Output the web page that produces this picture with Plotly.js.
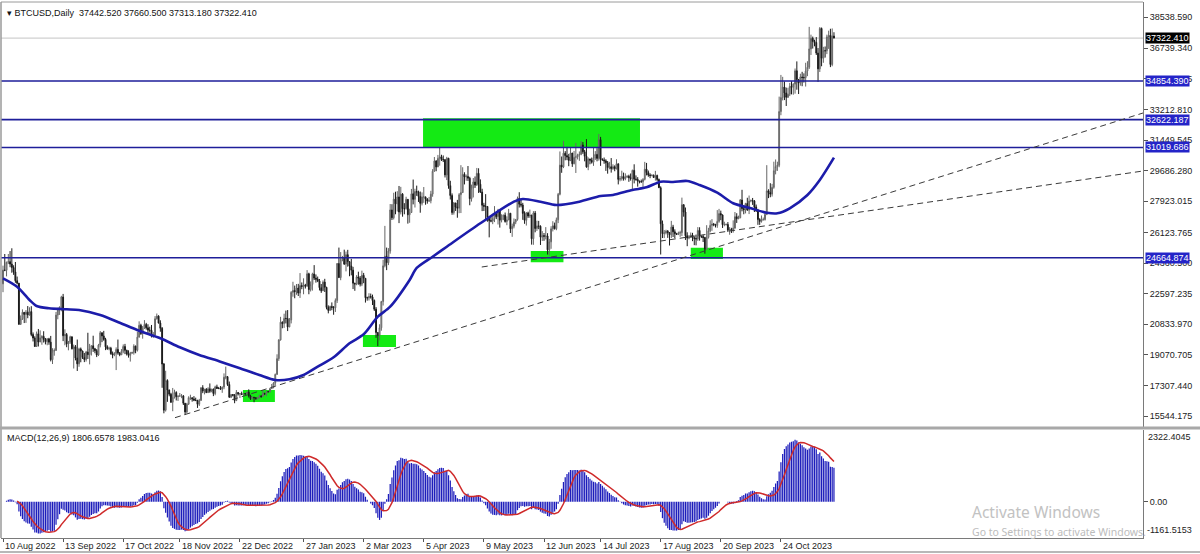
<!DOCTYPE html>
<html>
<head>
<meta charset="utf-8">
<script src="https://cdn.plot.ly/plotly-3.0.1.min.js"></script>
<style>
  html, body { margin: 0; padding: 0; background: #ffffff; }
  #chart { width: 1200px; height: 554px; }
</style>
</head>
<body>
<div id="chart"></div>
<script>
// ---------------- DATA (BTCUSD Daily, one line per month) ----------------
const firstDay = '2022-08-10';

const openP = [
  23160,23950,23940,24400,24440,24300,24100,23850,23340,23200,20830,21150,21520,21400,21530,21370,21560,20240,20040,19550,20280,19810,
  20050,20130,19950,19830,19990,19800,18790,19290,19320,21360,21650,21830,22400,20170,20240,19700,19800,20110,19420,19540,18880,18550,19410,19290,18920,18800,19230,19080,19410,19590,
  19420,19310,19060,19630,20340,20160,19960,19530,19420,19450,19130,19060,19160,19380,19180,19070,19270,19550,19330,19120,19040,19170,19200,19570,19330,20090,20770,20290,20600,20820,20630,
  20490,20480,20150,20210,21150,21300,20900,20600,18540,15880,17590,17040,16800,16340,16620,16900,16660,16690,16700,16700,16280,15780,16230,16600,16600,16520,16460,16440,16220,16440,
  17170,16980,17090,16890,17110,16970,17090,16840,17220,17130,17130,17090,17210,17780,17810,17360,16630,16780,16740,16440,16900,16820,16830,16780,16840,16830,16920,16700,16540,16630,16600,
  16540,16620,16680,16670,16850,16830,16950,16940,17120,17190,17440,17940,18850,19930,20950,20870,21170,21160,20680,21080,22670,22780,22710,22920,22630,23060,23010,23080,23030,23740,22830,
  23130,23730,23490,23430,23330,22940,22760,23260,22960,21800,21630,21860,21790,21780,22200,24330,23520,24570,24630,24300,24840,24440,24190,23950,23200,23150,23560,23490,
  23140,23650,23480,22360,22350,22430,22410,22200,21700,20360,20190,20630,22140,24200,24750,24380,25050,27420,26970,28040,27770,28170,27300,28330,27490,27490,28030,27140,27270,28350,28030,
  28480,28460,28200,27800,28170,28170,28040,27930,27950,28330,29650,30240,29900,30390,30480,30320,30320,29440,30400,28820,28250,27270,27820,27590,27520,28300,28420,29470,29320,29350,
  29250,28070,28680,29030,28850,29530,28900,28450,27690,27630,27620,26990,26800,26780,26930,27190,27030,27400,26830,26890,27120,26750,26850,27230,26330,26480,26720,26870,28080,27750,27700,
  27220,26820,27250,27070,27120,25760,27240,26350,26500,26480,25850,25940,25900,25920,25120,25580,26330,26510,26340,26850,28320,30000,29900,30690,30550,30470,30270,30700,30080,30450,
  30480,30590,30620,31160,30770,30510,29900,30350,30290,30170,30410,30620,30390,31470,30330,30300,30250,30140,29860,29910,29800,29910,29800,30080,29180,29230,29350,29220,29320,29360,29280,
  29230,29700,29190,29180,29080,29050,29040,29180,29770,29570,29430,29400,29420,29290,29410,29170,28700,26620,26050,26100,26190,26120,25990,26430,26160,26050,26010,26090,26110,27720,27300,
  25930,25800,25870,25970,25810,25780,25750,26240,25910,25890,25830,25160,25840,26220,26530,26600,26570,26530,26760,27210,27130,26570,26580,26580,26250,26300,26220,26370,27030,26910,
  26970,27990,27500,27430,27790,27410,27930,27960,27940,27590,27390,26870,26760,26860,26860,27160,28520,28420,28330,28720,29680,29920,29990,33090,33900,34500,34160,33910,34090,34540,34490,
  34670,35440,34940,34730,35080,35050,35040,35420,35640,36700,37310,37130,37070,36460,35550,37880,36160,36600,36590,37390,37480,35800,37442.52
];

const highP = [
  24210,24880,24440,24880,25050,25210,24230,24420,23580,23210,21340,21690,21520,21650,21880,21810,21870,20360,20140,20410,20560,20480,
  20200,20430,20040,20030,20050,20160,19450,19440,21540,21780,21850,22470,22580,20540,20330,19870,20170,20120,19660,19630,19950,19480,19490,19310,19180,19300,20340,19700,19630,20170,
  19470,19400,19700,20440,20360,20450,20050,19620,19540,19530,19260,19220,19500,19950,19230,19400,19670,19700,19360,19330,19240,19250,19680,19600,20400,21000,20860,20730,21070,20910,20830,
  20690,20790,20380,21300,21450,21350,21060,20670,18600,18150,17660,17070,16880,17160,17060,16970,16730,16870,16810,16750,16290,16300,16680,16770,16610,16690,16600,16480,16530,17200,
  17320,17100,17150,17200,17420,17110,17130,17290,17350,17220,17270,17240,18000,18390,17850,17530,16800,16810,16810,17040,16920,16860,16950,16860,16860,16940,17080,16770,16660,16640,16630,
  16630,16770,16760,16990,16880,17010,16960,17170,17390,17490,17990,19100,19970,21260,21000,21440,21620,21650,21190,22740,23280,23060,23150,23160,23780,23240,23480,23160,23950,23800,23300,
  23800,24240,23700,23580,23440,23150,23360,23450,22990,21920,21900,22090,21880,22320,24360,25250,24990,24770,25130,25020,25120,24470,24600,24140,23220,23660,23860,23610,
  23920,23790,23480,22420,22620,22600,22540,22260,21820,20370,20830,22180,24550,26500,25250,25220,27760,27750,28410,28470,28500,28800,28750,28390,27810,28180,28040,27490,28630,29170,28640,
  28820,28530,28480,28430,28740,28190,28100,28170,28520,29770,30470,30290,30590,31000,30600,30560,30330,30480,30420,29100,28370,27880,27830,28000,28390,30000,29880,29590,29460,29950,
  29330,28880,29260,29350,29840,29820,29180,28640,27830,28330,27630,27050,27030,27190,27640,27270,27480,27470,27170,27150,27270,27050,27480,27230,26630,26930,26900,28190,28440,28040,27830,
  27340,27300,27320,27440,27140,27350,27360,26800,26790,26530,26200,26090,26430,26080,25750,26480,26770,26690,26980,28400,30790,30500,31400,30810,31050,30650,31010,30710,30820,31280,
  30660,30790,31390,31330,30880,31500,30450,30380,30440,31040,30810,30980,31800,31630,30400,30440,30340,30240,30190,30410,30050,29990,30340,30090,29370,29680,29570,29530,29410,29450,29520,
  29740,30050,29410,29310,29110,29170,29250,30190,30130,29690,29530,29470,29460,29670,29450,29230,28780,26810,26260,26280,26260,26140,26790,26560,26300,26100,26170,26220,28130,27750,27560,
  26130,25970,26120,26100,25880,26000,26430,26420,25940,25990,25870,26540,26390,26820,26890,26670,26620,27410,27480,27380,27160,26740,26640,26720,26430,26390,26820,27300,27230,27090,
  28050,28580,27670,27830,28120,28250,28020,28110,27990,27730,27480,26940,27100,26980,27280,30000,28610,28960,28920,30200,30330,30200,33950,35200,35090,34820,34470,34460,34740,34840,34720,
  35570,35980,34940,35270,35380,35290,35900,35990,37970,37520,37410,37230,37380,36750,37960,37930,36820,36840,37520,37750,37860,37880,37660.5
];

const lowP = [
  22680,23890,23590,24300,24120,23800,23680,23220,23130,20800,20790,21080,20900,20910,21180,21330,20140,19840,19540,19540,19550,19800,
  19650,19780,19670,19620,19650,18690,18540,19020,19310,21120,21370,21580,19860,19620,19510,19330,19700,19380,18280,18750,18140,18380,18640,18830,18650,18680,18830,18520,19030,19240,
  19160,18940,19000,19500,19800,19880,19340,19360,19330,19080,18870,18990,18190,19080,18990,19060,19160,19110,19030,18910,18680,19120,19080,19160,19260,20060,20220,20000,20560,20520,20250,
  20350,20070,20050,20180,21100,20880,20400,17170,15700,15800,16360,16680,16300,15820,16550,16440,16410,16660,16570,16180,15600,15700,16180,16470,16370,16400,16400,16010,16120,16430,
  16860,16790,16880,16870,16880,16910,16690,16740,17100,17090,17070,16880,17090,17660,17280,16590,16580,16670,16280,16400,16730,16580,16760,16770,16730,16780,16610,16470,16500,16340,16490,
  16500,16550,16590,16650,16750,16690,16910,16910,17100,17140,17310,17920,18720,19890,20600,20620,20880,20440,20660,20880,22420,22330,22530,22460,22350,22850,22560,22890,22990,22560,22720,
  22770,23380,23230,23260,22780,22640,22750,22690,21690,21460,21610,21640,21380,21540,22060,23510,23370,24460,24250,23880,24150,23600,23650,22860,22760,23080,23110,23010,
  23030,23200,22080,22190,22200,22310,21940,21600,20050,19570,19900,20460,21910,24110,23950,24240,24900,26840,26870,27170,27330,26660,27160,27030,27170,27440,26630,26680,27250,27740,27560,
  28230,27880,27260,27680,27830,27720,27780,27890,27800,28180,29620,29650,29890,29970,30240,30180,29290,29140,28640,28020,27140,27150,27360,26970,27230,27240,28400,28890,29100,29090,
  27690,27900,28140,28690,28810,28400,28400,27350,27360,26800,26740,25840,26710,26600,26720,26890,26580,26400,26700,26830,26690,26540,26830,26090,25870,26360,26600,26800,27560,27570,26850,
  26620,26520,26960,26960,25420,25410,26130,26210,26310,25400,25630,25640,25720,24850,24800,25180,26180,26290,26250,26660,28260,29560,29830,30280,30290,29940,30230,29900,30050,29550,
  30330,30250,30570,30650,30220,29850,29710,30050,30090,29960,30300,30220,30260,29960,30260,30080,29670,29510,29760,29570,29730,29650,29750,28890,29070,29110,29110,29130,29260,29040,29110,
  28600,28950,29100,28760,28950,28990,28700,29120,29410,29330,29250,29360,29260,29110,29070,28690,24850,25800,25800,26010,25810,25370,25800,25860,25790,25990,25970,25870,25920,27030,25690,
  25330,25730,25800,25620,25390,25380,25640,25650,25800,25570,24900,25130,25770,26130,26220,26480,26410,26390,26680,26830,26380,26480,26520,26150,25990,26090,26110,26340,26670,26890,
  26940,27340,27170,27220,27370,27180,27860,27710,27300,27300,26560,26560,26690,26810,26810,27120,28100,28150,28190,28640,29470,29670,29880,32880,33730,33750,33410,33880,33980,34080,34060,
  34120,34350,34100,34580,34550,34760,34530,35130,35540,36350,36720,36850,36350,34800,35370,35700,35900,36200,36400,36700,35650,35700,37313.18
];

const closeP = [
  23950,23940,24400,24440,24300,24100,23850,23340,23200,20830,21150,21520,21400,21530,21370,21560,20240,20040,19550,20280,19810,20050,
  20130,19950,19830,19990,19800,18790,19290,19320,21360,21650,21830,22400,20170,20240,19700,19800,20110,19420,19540,18880,18550,19410,19290,18920,18800,19230,19080,19410,19590,19420,
  19310,19060,19630,20340,20160,19960,19530,19420,19450,19130,19060,19160,19380,19180,19070,19270,19550,19330,19120,19040,19170,19200,19570,19330,20090,20770,20290,20600,20820,20630,20490,
  20480,20150,20210,21150,21300,20900,20600,18540,15880,17590,17040,16800,16340,16620,16900,16660,16690,16700,16700,16280,15780,16230,16600,16600,16520,16460,16440,16220,16440,17170,
  16980,17090,16890,17110,16970,17090,16840,17220,17130,17130,17090,17210,17780,17810,17360,16630,16780,16740,16440,16900,16820,16830,16780,16840,16830,16920,16700,16540,16630,16600,16540,
  16620,16680,16670,16850,16830,16950,16940,17120,17190,17440,17940,18850,19930,20950,20870,21170,21160,20680,21080,22670,22780,22710,22920,22630,23060,23010,23080,23030,23740,22830,23130,
  23730,23490,23430,23330,22940,22760,23260,22960,21800,21630,21860,21790,21780,22200,24330,23520,24570,24630,24300,24840,24440,24190,23950,23200,23150,23560,23490,23140,
  23650,23480,22360,22350,22430,22410,22200,21700,20360,20190,20630,22140,24200,24750,24380,25050,27420,26970,28040,27770,28170,27300,28330,27490,27490,28030,27140,27270,28350,28030,28480,
  28460,28200,27800,28170,28170,28040,27930,27950,28330,29650,30240,29900,30390,30480,30320,30320,29440,30400,28820,28250,27270,27820,27590,27520,28300,28420,29470,29320,29350,29250,
  28070,28680,29030,28850,29530,28900,28450,27690,27630,27620,26990,26800,26780,26930,27190,27030,27400,26830,26890,27120,26750,26850,27230,26330,26480,26720,26870,28080,27750,27700,27220,
  26820,27250,27070,27120,25760,27240,26350,26500,26480,25850,25940,25900,25920,25120,25580,26330,26510,26340,26850,28320,30000,29900,30690,30550,30470,30270,30700,30080,30450,30480,
  30590,30620,31160,30770,30510,29900,30350,30290,30170,30410,30620,30390,31470,30330,30300,30250,30140,29860,29910,29800,29910,29800,30080,29180,29230,29350,29220,29320,29360,29280,29230,
  29700,29190,29180,29080,29050,29040,29180,29770,29570,29430,29400,29420,29290,29410,29170,28700,26620,26050,26100,26190,26120,25990,26430,26160,26050,26010,26090,26110,27720,27300,25930,
  25800,25870,25970,25810,25780,25750,26240,25910,25890,25830,25160,25840,26220,26530,26600,26570,26530,26760,27210,27130,26570,26580,26580,26250,26300,26220,26370,27030,26910,26970,
  27990,27500,27430,27790,27410,27930,27960,27940,27590,27390,26870,26760,26860,26860,27160,28520,28420,28330,28720,29680,29920,29990,33090,33900,34500,34160,33910,34090,34540,34490,34670,
  35440,34940,34730,35080,35050,35040,35420,35640,36700,37310,37130,37070,36460,35550,37880,36160,36600,36590,37390,37480,35800,37440,37322.41
];

// Moving average (blue line)
const maDates = ['2022-08-10','2022-08-18','2022-08-25','2022-08-29','2022-09-05','2022-09-15','2022-09-22','2022-10-04','2022-10-15','2022-10-26',
  '2022-11-07','2022-11-18','2022-11-29','2022-12-11','2022-12-22','2023-01-02','2023-01-11','2023-01-19','2023-01-27','2023-02-04',
  '2023-02-13','2023-02-22','2023-03-02','2023-03-10','2023-03-17','2023-03-28','2023-04-01','2023-04-10','2023-04-18','2023-05-07',
  '2023-05-26','2023-05-31','2023-06-10','2023-06-19','2023-07-02','2023-07-14','2023-07-21','2023-08-01','2023-08-09','2023-08-17',
  '2023-08-24','2023-09-01','2023-09-08','2023-09-18','2023-09-27','2023-10-07','2023-10-16','2023-10-22','2023-10-29','2023-11-08',
  '2023-11-15','2023-11-23'];
const maValues = [23480,22996,22230,21884,21751,21694,21653,21365,20921,20460,
  20022,19504,19060,18674,18293,17907,17619,17660,17907,18386,
  18927,19734,20250,21267,21843,23382,24074,24725,25301,26650,
  27895,28050,27895,27704,27895,28223,28281,28569,28724,29047,
  29030,29088,28857,28413,27802,27514,27261,27226,27514,28281,
  29145,30430];

// Horizontal levels
const levels = [34854.390, 32622.187, 31019.686, 24664.874];
const lastPrice = 37322.410;

// Price axis labels
const priceTicks = [38538.590, 36739.340, 34976.075, 33212.810, 31449.545, 29686.280, 27923.015, 26123.765, 24360.500, 22597.235, 20833.970, 19070.705, 17307.440, 15544.175];

// Date axis labels
const dateTicks = ['2022-08-10','2022-09-13','2022-10-17','2022-11-18','2022-12-22','2023-01-27','2023-03-02','2023-04-05','2023-05-09','2023-06-12','2023-07-14','2023-08-17','2023-09-20','2023-10-24'];
const dateLabels = ['10 Aug 2022','13 Sep 2022','17 Oct 2022','18 Nov 2022','22 Dec 2022','27 Jan 2023','2 Mar 2023','5 Apr 2023','9 May 2023','12 Jun 2023','14 Jul 2023','17 Aug 2023','20 Sep 2023','24 Oct 2023'];

// Green zones: [start, end, low, high]
const zoneStart = ['2022-12-23 17:00','2023-03-01 14:00','2023-04-04 14:00','2023-06-04 12:00','2023-09-03 00:00'];
const zoneEnd   = ['2023-01-10 19:00','2023-03-20 07:00','2023-08-05 07:00','2023-06-23 00:00','2023-09-21 05:00'];
const zoneLow   = [16352, 19521, 31019.686, 24403, 24592];
const zoneHigh  = [17043, 20212, 32700, 25054, 25243];

// Trend lines (dashed)
const trendStart = ['2022-11-15 07:00','2023-05-07 19:00'];
const trendStartVal = [15446, 24131];
const trendEnd = ['2024-05-15 19:00','2024-05-15 19:00'];
const trendEndVal = [33006, 29663];

// MACD panel scale labels
const macdMax = 2322.4045, macdMin = -1161.5153;

// ---------------- BUILD ----------------
const dayMs = 86400000;
const t0 = Date.parse(firstDay + 'T00:00:00Z');
const dates = closeP.map((_, i) => new Date(t0 + i * dayMs).toISOString().slice(0, 10));

if (!(openP.length === closeP.length && highP.length === closeP.length && lowP.length === closeP.length)) {
  console.error('length mismatch', openP.length, highP.length, lowP.length, closeP.length);
}

// MACD(12,26,9) computed from closes (as the terminal does)
function ema(arr, n) {
  const k = 2 / (n + 1); const out = [arr[0]];
  for (let i = 1; i < arr.length; i++) out.push(arr[i] * k + out[i - 1] * (1 - k));
  return out;
}
const e12 = ema(closeP, 12), e26 = ema(closeP, 26);
const macd = e12.map((v, i) => v - e26[i]);
const sigX = [], sigY = [];
for (let i = 8; i < macd.length; i++) {
  let s = 0; for (let j = i - 8; j <= i; j++) s += macd[j];
  sigX.push(dates[i]); sigY.push(s / 9);
}

const NAVY = '#1e1e9a';
const traces = [
  {
    type: 'candlestick', x: dates, open: openP, high: highP, low: lowP, close: closeP,
    xaxis: 'x', yaxis: 'y',
    increasing: { line: { color: '#666666', width: 1 }, fillcolor: '#d0d0d0' },
    decreasing: { line: { color: '#1a1a1a', width: 1 }, fillcolor: '#1a1a1a' },
    whiskerwidth: 0, hoverinfo: 'skip', showlegend: false
  },
  {
    type: 'scatter', mode: 'lines', x: maDates, y: maValues, xaxis: 'x', yaxis: 'y',
    line: { color: '#1c1caa', width: 2.6, shape: 'spline', smoothing: 0.8 }, hoverinfo: 'skip'
  },
  {
    type: 'bar', x: dates, y: macd, xaxis: 'x', yaxis: 'y2',
    marker: { color: '#1d1dbb', line: { width: 0 } }, hoverinfo: 'skip'
  },
  {
    type: 'scatter', mode: 'lines', x: sigX, y: sigY, xaxis: 'x', yaxis: 'y2',
    line: { color: '#cf2a2a', width: 1.5 }, hoverinfo: 'skip'
  }
];

const H = 554, T = 2, B = 16, plotH = H - T - B;
const pyToPaper = py => (H - B - py) / plotH;

const shapes = [];
// green zones (behind candles)
for (let i = 0; i < zoneStart.length; i++) {
  shapes.push({ type: 'rect', xref: 'x', yref: 'y', x0: zoneStart[i], x1: zoneEnd[i], y0: zoneLow[i], y1: zoneHigh[i],
    fillcolor: '#14ea14', line: { width: 0 }, layer: 'below' });
}
// last price line
shapes.push({ type: 'line', xref: 'paper', yref: 'y', x0: 0, x1: 1, y0: lastPrice, y1: lastPrice, line: { color: '#c4c4c4', width: 1 }, layer: 'below' });
// horizontal levels
levels.forEach(v => shapes.push({ type: 'line', xref: 'paper', yref: 'y', x0: 0, x1: 1, y0: v, y1: v, line: { color: NAVY, width: 1.6 } }));
// trend lines
for (let i = 0; i < trendStart.length; i++) {
  shapes.push({ type: 'line', xref: 'x', yref: 'y', x0: trendStart[i], x1: trendEnd[i], y0: trendStartVal[i], y1: trendEndVal[i],
    line: { color: '#3a3a3a', width: 1, dash: '6px,4px' } });
}
// frame pieces
shapes.push({ type: 'line', xref: 'paper', yref: 'paper', x0: 0, x1: 1, y0: 1, y1: 1, line: { color: '#9a9a9a', width: 1 } });
shapes.push({ type: 'line', xref: 'paper', yref: 'paper', x0: 0, x1: 0, y0: 0, y1: 1, line: { color: '#9a9a9a', width: 1.5 } });
shapes.push({ type: 'rect', xref: 'paper', yref: 'paper', x0: -0.002, x1: 1.06, y0: pyToPaper(429.5), y1: pyToPaper(426.5), fillcolor: '#a8a8a8', line: { width: 0 } });
shapes.push({ type: 'line', xref: 'paper', yref: 'paper', x0: -0.002, x1: 1.06, y0: pyToPaper(552), y1: pyToPaper(552), line: { color: '#a0a0a0', width: 1.5 } });

const annotations = [];
// title text
annotations.push({ xref: 'paper', yref: 'paper', x: 0, y: 1, xanchor: 'left', yanchor: 'top', xshift: 4, yshift: -4,
  text: '▾ BTCUSD,Daily  37442.520 37660.500 37313.180 37322.410', showarrow: false, font: { size: 9, color: '#111' } });
annotations.push({ xref: 'paper', yref: 'paper', x: 0, y: pyToPaper(429.5), xanchor: 'left', yanchor: 'top', xshift: 4, yshift: -1,
  text: 'MACD(12,26,9) 1806.6578 1983.0416', showarrow: false, font: { size: 9, color: '#111' } });
// date labels
dateTicks.forEach((d, i) => annotations.push({ xref: 'x', yref: 'paper', x: d, y: 0, xanchor: 'left', yanchor: 'top', xshift: 0, yshift: -1,
  text: dateLabels[i], showarrow: false, font: { size: 9, color: '#222' } }));
// level boxes on price axis
levels.forEach(v => annotations.push({ xref: 'paper', yref: 'y', x: 1, y: v, xanchor: 'left', yanchor: 'middle', xshift: 2,
  text: v.toFixed(3), showarrow: false, bgcolor: '#2424c8', borderpad: 0, font: { size: 9, color: '#ffffff' } }));
annotations.push({ xref: 'paper', yref: 'y', x: 1, y: lastPrice, xanchor: 'left', yanchor: 'middle', xshift: 2,
  text: lastPrice.toFixed(3), showarrow: false, bgcolor: '#000000', borderpad: 0, font: { size: 9, color: '#ffffff' } });
// MACD scale
annotations.push({ xref: 'paper', yref: 'y2', x: 1, y: macdMax, xanchor: 'left', yanchor: 'top', xshift: 3, yshift: 0,
  text: macdMax.toFixed(4), showarrow: false, font: { size: 9, color: '#222' } });
annotations.push({ xref: 'paper', yref: 'y2', x: 1, y: macdMin, xanchor: 'left', yanchor: 'bottom', xshift: 2, yshift: 1,
  text: macdMin.toFixed(4), showarrow: false, font: { size: 9, color: '#222' } });
// Windows watermark
annotations.push({ xref: 'paper', yref: 'paper', x: 0, y: pyToPaper(512), xanchor: 'left', yanchor: 'middle', xshift: 969,
  text: 'Activate Windows', showarrow: false, font: { family: 'Noto Sans, sans-serif', size: 15.5, color: '#c2c2c2' } });
annotations.push({ xref: 'paper', yref: 'paper', x: 0, y: pyToPaper(532), xanchor: 'left', yanchor: 'middle', xshift: 969,
  text: 'Go to Settings to activate Windows.', showarrow: false, font: { family: 'Noto Sans, sans-serif', size: 10.5, color: '#bcbcbc' } });

const layout = {
  width: 1200, height: H,
  margin: { l: 1, r: 57, t: T, b: B, pad: 0 },
  paper_bgcolor: '#ffffff', plot_bgcolor: '#ffffff',
  font: { family: 'Liberation Sans, Arial, sans-serif', size: 9, color: '#222' },
  showlegend: false, bargap: 0.3, hovermode: false,
  xaxis: {
    type: 'date', range: ['2022-08-08 20:51', '2024-05-15 19:12'], anchor: 'y2',
    showgrid: false, zeroline: false, showline: true, linecolor: '#7a7a7a', linewidth: 1,
    ticks: 'outside', ticklen: 3, tickcolor: '#555', tickmode: 'array', tickvals: dateTicks, showticklabels: false,
    rangeslider: { visible: false }, fixedrange: true
  },
  yaxis: {
    domain: [pyToPaper(427), 1], range: [14910.3, 39403], side: 'right', anchor: 'x',
    showgrid: false, zeroline: false, showline: true, linecolor: '#7a7a7a', linewidth: 1,
    ticks: 'outside', ticklen: 4, tickcolor: '#555', tickmode: 'array', tickvals: priceTicks,
    ticktext: priceTicks.map(v => v.toFixed(3)), tickfont: { size: 9, color: '#222' }, fixedrange: true
  },
  yaxis2: {
    domain: [0, pyToPaper(429.5)], range: [macdMin, macdMax], side: 'right', anchor: 'x',
    showgrid: false, zeroline: false, showline: true, linecolor: '#7a7a7a', linewidth: 1,
    ticks: 'outside', ticklen: 4, tickcolor: '#555', tickmode: 'array', tickvals: [0], ticktext: ['0.00'],
    tickfont: { size: 9, color: '#222' }, fixedrange: true
  },
  shapes: shapes,
  annotations: annotations
};

Plotly.newPlot('chart', traces, layout, { displayModeBar: false, staticPlot: true });
</script>
</body>
</html>
